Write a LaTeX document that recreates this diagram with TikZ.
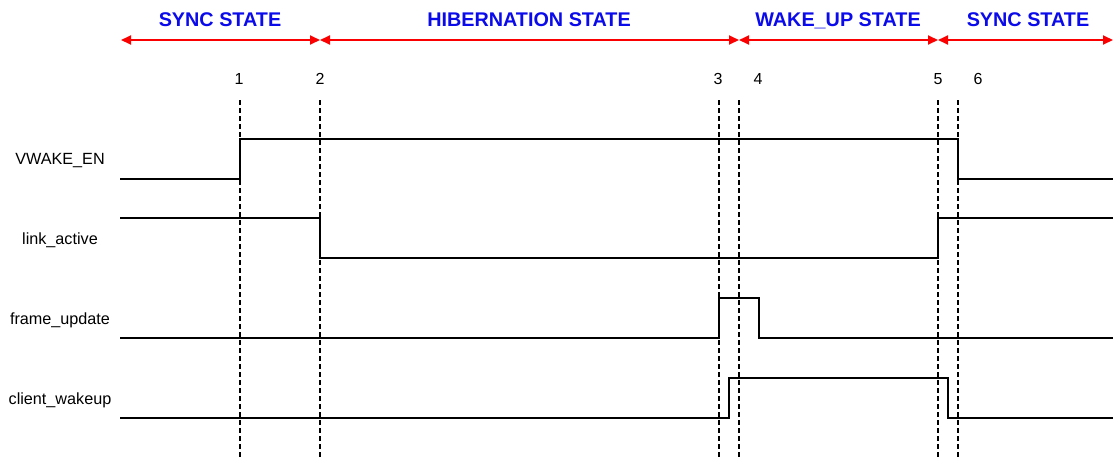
\documentclass[tikz,border=0pt]{standalone}
\usepackage{fontspec}
\setmainfont{Liberation Sans}
\usetikzlibrary{arrows.meta}
\definecolor{stateblue}{RGB}{10,10,235}
\definecolor{statered}{RGB}{250,0,0}
\begin{document}
\begin{tikzpicture}[x=1pt,y=-1pt,
  statelabel/.style={text=stateblue,font=\fontsize{19.8}{22}\selectfont\bfseries,anchor=base,inner sep=0pt},
  siglabel/.style={font=\fontsize{16.2}{19}\selectfont,anchor=base,inner sep=0pt},
  numlabel/.style={font=\fontsize{16}{19}\selectfont,anchor=base,inner sep=0pt},
  statearrow/.style={draw=statered,line width=1.8pt,{Triangle[length=10pt,width=9pt]}-{Triangle[length=10pt,width=9pt]},shorten <=0pt,shorten >=0pt},
  marker/.style={draw=black,line width=1.2pt,dash pattern=on 5pt off 3pt},
  wave/.style={draw=black,line width=2.6pt,line join=miter}]
\useasboundingbox (0,0) rectangle (1113,459);
% state boundaries
\coordinate (s0) at (121,40);
\coordinate (s1) at (320,40);
\coordinate (s2) at (739,40);
\coordinate (s3) at (938,40);
\coordinate (s4) at (1113,40);
\draw[statearrow] (s0) -- (s1);
\draw[statearrow] (s1) -- (s2);
\draw[statearrow] (s2) -- (s3);
\draw[statearrow] (s3) -- (s4);
\node[statelabel] (st1) at (220,26) {SYNC STATE};
\node[statelabel] (st2) at (529,26) {HIBERNATION STATE};
\node[statelabel] (st3) at (838,26) {WAKE\_UP STATE};
\node[statelabel] (st4) at (1028,26) {SYNC STATE};
% time markers
\node[numlabel] (n1) at (239,84) {1};
\node[numlabel] (n2) at (320,84) {2};
\node[numlabel] (n3) at (718,84) {3};
\node[numlabel] (n4) at (758,84) {4};
\node[numlabel] (n5) at (938,84) {5};
\node[numlabel] (n6) at (978,84) {6};
\foreach \i/\x in {1/240,2/320,3/719,4/739,5/938,6/958}{
  \coordinate (m\i top) at (\x,100);
  \coordinate (m\i bot) at (\x,459);
  \draw[marker] (m\i top) -- (m\i bot);
}
% signal labels
\node[siglabel] (l1) at (60,164) {VWAKE\_EN};
\node[siglabel] (l2) at (60,244) {link\_active};
\node[siglabel] (l3) at (60,324) {frame\_update};
\node[siglabel] (l4) at (60,404) {client\_wakeup};
% waveforms
\draw[wave] (120,179) -- (240,179) -- (240,139) -- (958,139) -- (958,179) -- (1113,179);
\draw[wave] (120,218) -- (320,218) -- (320,258) -- (938,258) -- (938,218) -- (1113,218);
\draw[wave] (120,338) -- (719,338) -- (719,298) -- (759,298) -- (759,338) -- (1113,338);
\draw[wave] (120,418) -- (729,418) -- (729,378) -- (948,378) -- (948,418) -- (1113,418);
\end{tikzpicture}
\end{document}
